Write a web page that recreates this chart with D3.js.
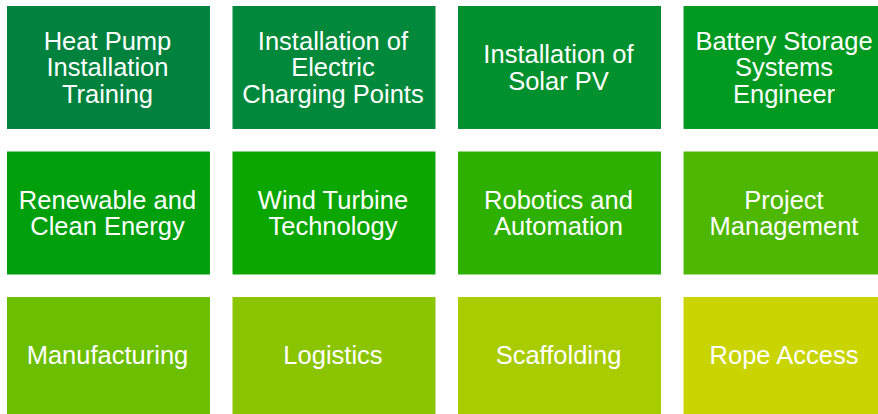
<!DOCTYPE html>
<html>
<head>
<meta charset="utf-8">
<script src="https://cdn.jsdelivr.net/npm/d3@7"></script>
<style>
    body { margin: 0; background: #ffffff; }
    svg { display: block; }
</style>
</head>
<body>
<svg id="svg" width="878" height="414"></svg>
<script>
// tiles, read left to right, top to bottom
let labels = [
    ["Heat Pump", "Installation", "Training"],
    ["Installation of", "Electric", "Charging Points"],
    ["Installation of", "Solar PV"],
    ["Battery Storage", "Systems", "Engineer"],
    ["Renewable and", "Clean Energy"],
    ["Wind Turbine", "Technology"],
    ["Robotics and", "Automation"],
    ["Project", "Management"],
    ["Manufacturing"],
    ["Logistics"],
    ["Scaffolding"],
    ["Rope Access"]
];

let tileColors = [
    "#00823f", "#00893a", "#00902e", "#009a20",
    "#00a00c", "#0ba600", "#2eb000", "#4eb700",
    "#6cbe00", "#8bc400", "#a9cc00", "#cad400"
];

let columns = [0, 1, 2, 3];
let rows = [0, 1, 2];

let svg = d3.select("#svg");
const height = 414;

let xScale = d3.scaleBand()
    .domain(columns)
    .range([7, 886.5])
    .paddingInner(0.1);

let yScale = d3.scaleBand()
    .domain(rows)
    .range([6, 420])
    .paddingInner(0.155);

let lineHeight = 26.5;

let tiles = svg.selectAll(".tile")
    .data(labels)
    .enter().append("g")
    .attr("class", "tile")
    .attr("transform", (d, i) => `translate(${xScale(i % 4)},${yScale(Math.floor(i / 4))})`);

tiles.append("rect")
    .attr("width", xScale.bandwidth())
    .attr("height", yScale.bandwidth())
    .attr("fill", (d, i) => tileColors[i]);

tiles.append("text")
    .attr("x", xScale.bandwidth() / 2)
    .attr("text-anchor", "middle")
    .style("font-family", "'Liberation Sans', Arial, sans-serif")
    .style("font-size", "25.5px")
    .style("fill", "#ffffff")
    .each(function(d, i) {
        let t = d3.select(this);
        // bottom row is cut by the page edge, text sits in the visible part
        let y0 = yScale(Math.floor(i / 4));
        let visible = Math.min(yScale.bandwidth(), height - y0);
        let top = visible / 2 - (d.length - 1) * lineHeight / 2;
        d.forEach((line, k) => {
            t.append("tspan")
                .attr("x", xScale.bandwidth() / 2 - 1)
                .attr("y", top + k * lineHeight)
                .attr("dy", "0.35em")
                .text(line);
        });
    });
</script>
</body>
</html>
